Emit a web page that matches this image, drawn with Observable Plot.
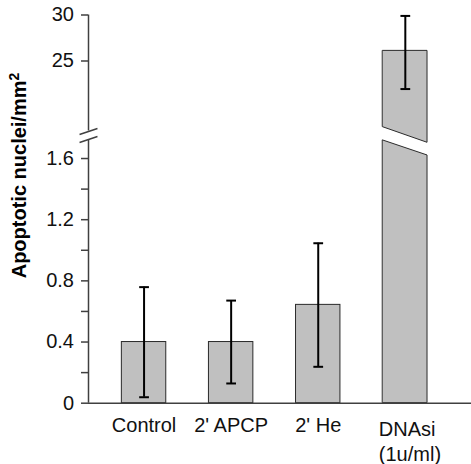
<!DOCTYPE html>
<html>
<head>
<meta charset="utf-8">
<script src="https://cdn.jsdelivr.net/npm/d3@7"></script>
<script src="https://cdn.jsdelivr.net/npm/@observablehq/plot@0.6"></script>
<style>
  html, body { margin: 0; padding: 0; background: #fff; }
  #chart { width: 471px; height: 464px; }
</style>
</head>
<body>
<div id="chart"></div>
<script>
// ---- data ----
const categories = ["Control", "2' APCP", "2' He", "DNAsi\n(1u/ml)"];
const means      = [0.40, 0.40, 0.643, 26.1];
const errLow     = [0.039, 0.129, 0.238, 21.95];
const errHigh    = [0.759, 0.671, 1.046, 29.9];

// y-axis ticks (broken axis: lower 0–1.78, upper ~17.4–30)
const majorTicks = [0, 0.4, 0.8, 1.2, 1.6, 25, 30];
const minorTicks = [0.2, 0.6, 1.0, 1.4];
const yLabelMain = "Apoptotic nuclei/mm";
const yLabelSup = "2";

// axis break description (value where each part meets the break)
const lowerTop = 1.78;          // top of lower segment
const upperBottom = 17.39;      // bottom of upper segment
const lowerAxisEnd = 1.725;     // lower axis line stops here
const brokenBar = 3;            // index of the bar that crosses the break
const upperPieceBottom = [17.80, 1.703];  // left, right (slanted cut)
const lowerPieceTop    = [1.718, 1.620];  // left, right (slanted cut)
const slashLeftY  = [1.757, 1.705];       // upper / lower slash, left end
const slashRightY = [17.66, 1.744];       // upper / lower slash, right end

// ---- derived tables ----
const half = 0.255, cap = 0.056;
const xMin = -0.638, xMax = 3.76;
const rows = categories.map((c, i) => ({i, c, m: means[i], lo: errLow[i], hi: errHigh[i]}));
const normalBars = rows.filter(d => d.i !== brokenBar);
const upperPiece = [
  {x: brokenBar - half, y1: upperPieceBottom[0], y2: means[brokenBar]},
  {x: brokenBar + half, y1: upperPieceBottom[1], y2: means[brokenBar]}
];
const lowerPiece = [
  {x: brokenBar - half, y1: 0, y2: lowerPieceTop[0]},
  {x: brokenBar + half, y1: 0, y2: lowerPieceTop[1]}
];
const axisSegments = [
  {y1: 0, y2: lowerAxisEnd},
  {y1: upperBottom, y2: d3.max(majorTicks)}
];
const slashes = slashLeftY.map((y, k) => ({y1: y, y2: slashRightY[k]}));

const W = 471, H = 464;
const mL = 88, mR = 0, mT = 14.5, mB = 61.3;
const y0px = H - mB;
const breakPx = 130.5;

const barFill = "#c0c0c0", barStroke = "#2a2a2a", axisColor = "#404040";

const chart = Plot.plot({
  width: W,
  height: H,
  marginLeft: mL, marginRight: mR, marginTop: mT, marginBottom: mB,
  style: {fontFamily: "'Liberation Sans', Arial, sans-serif", fontSize: "20px", color: "#111", background: "#fff"},
  x: {type: "linear", domain: [xMin, xMax], range: [mL, W - mR], axis: null},
  y: {type: "linear", domain: [0, lowerTop, upperBottom, 30], range: [y0px, breakPx, breakPx, mT], axis: null},
  marks: [
    // bars
    Plot.rectY(normalBars, {x1: d => d.i - half, x2: d => d.i + half, y1: 0, y2: "m", fill: barFill, stroke: barStroke, strokeWidth: 1}),
    Plot.areaY(upperPiece, {x: "x", y1: "y1", y2: "y2", fill: barFill, stroke: barStroke, strokeWidth: 1}),
    Plot.areaY(lowerPiece, {x: "x", y1: "y1", y2: "y2", fill: barFill, stroke: barStroke, strokeWidth: 1}),
    // error bars
    Plot.ruleX(rows, {x: "i", y1: "lo", y2: "hi", stroke: "#000", strokeWidth: 2}),
    Plot.link(rows, {x1: d => d.i - cap, x2: d => d.i + cap, y1: "hi", y2: "hi", stroke: "#000", strokeWidth: 2}),
    Plot.link(rows, {x1: d => d.i - cap, x2: d => d.i + cap, y1: "lo", y2: "lo", stroke: "#000", strokeWidth: 2}),
    // axes lines
    Plot.ruleY([0], {stroke: axisColor, strokeWidth: 1.5}),
    Plot.ruleX(axisSegments, {x: xMin, y1: "y1", y2: "y2", stroke: axisColor, strokeWidth: 1.5}),
    Plot.link(slashes, {x1: xMin - 0.103, x2: xMin + 0.103, y1: "y1", y2: "y2", stroke: axisColor, strokeWidth: 1.5}),
    // y ticks and labels
    Plot.axisY({ticks: majorTicks.concat(minorTicks), tickSize: 7, tickPadding: 7.5, stroke: axisColor, strokeWidth: 1.5,
      tickFormat: d => majorTicks.includes(d) ? String(d) : "", fontSize: 20, label: null}),
    // x labels
    Plot.axisX({ticks: [0, 1, 2], tickSize: 0, tickPadding: 15, tickFormat: i => categories[i], fontSize: 20, label: null}),
    Plot.axisX({ticks: [3], tickSize: 0, tickPadding: 15, tickFormat: i => categories[i], fontSize: 20, lineHeight: 1.25,
      textAnchor: "start", dx: -26.5, label: null}),
    // y title
    Plot.text([yLabelMain], {frameAnchor: "top-left", dx: 19 - mL, dy: 175 - mT, rotate: -90, fontSize: 20, fontWeight: "bold",
      textAnchor: "middle", lineAnchor: "middle", fill: "#000"})
  ]
});
// superscript on the y title
d3.select(chart).selectAll("text").filter(function() { return this.textContent === yLabelMain; })
  .append("tspan").attr("dy", "-0.5em").attr("font-size", 14).text(yLabelSup);
document.getElementById("chart").appendChild(chart);
</script>
</body>
</html>
